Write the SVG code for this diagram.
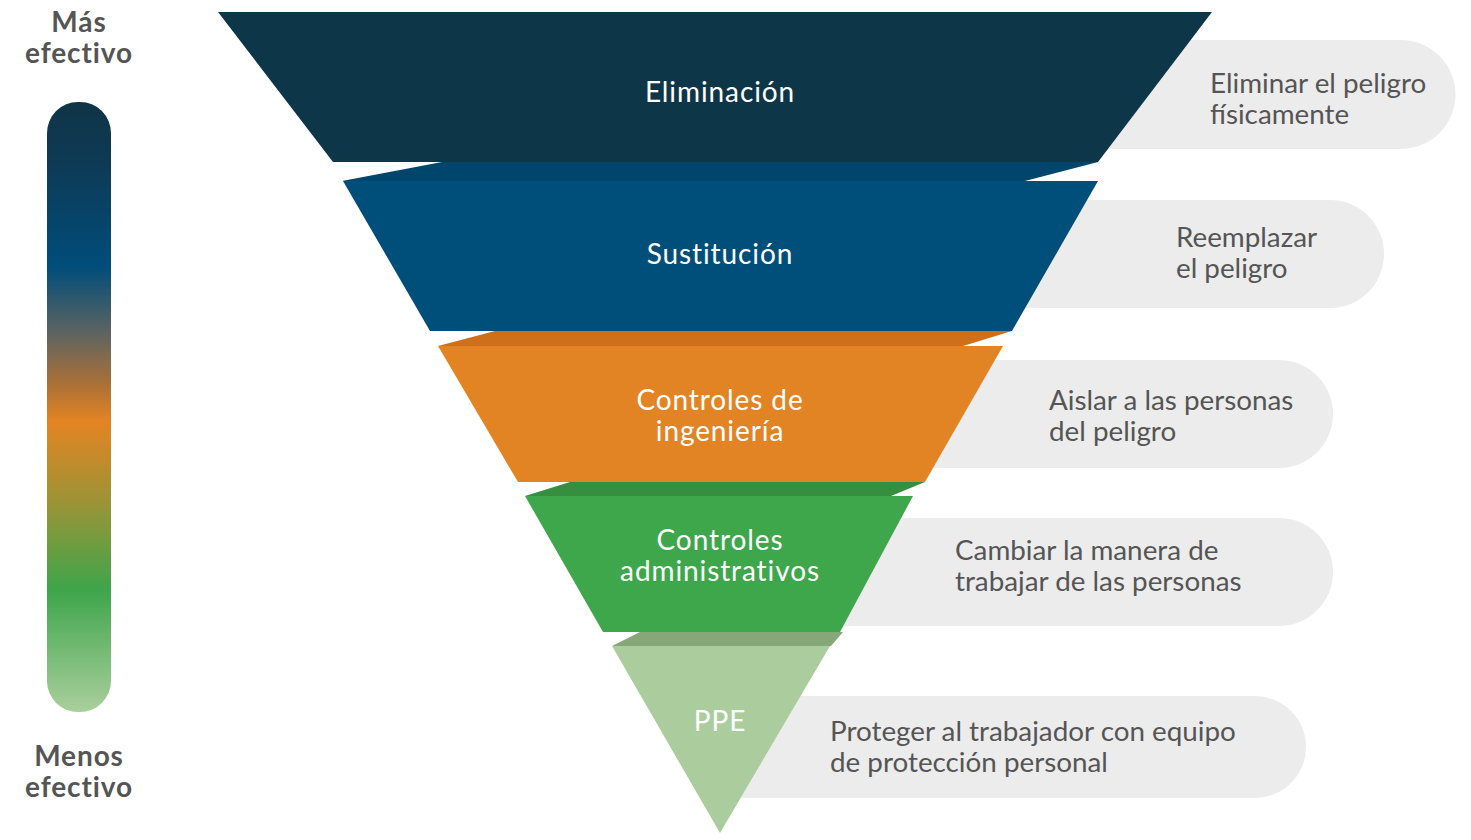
<svg xmlns="http://www.w3.org/2000/svg" width="1471" height="840" viewBox="0 0 1471 840">
<defs>
<linearGradient id="bar" x1="0" y1="0" x2="0" y2="1">
<stop offset="0" stop-color="#0f3446"/>
<stop offset="0.1" stop-color="#0e3a55"/>
<stop offset="0.27" stop-color="#004d7a"/>
<stop offset="0.38" stop-color="#5e6460"/>
<stop offset="0.46" stop-color="#a87038"/>
<stop offset="0.525" stop-color="#e48422"/>
<stop offset="0.66" stop-color="#999437"/>
<stop offset="0.8" stop-color="#3ea54b"/>
<stop offset="1" stop-color="#aacf9d"/>
</linearGradient>
<style>
.pill{fill:#ececec}
.lbl{font-family:Lato,"Open Sans","Liberation Sans",sans-serif;font-size:28px;letter-spacing:0.9px;fill:#ffffff;text-anchor:middle}
.desc{font-family:Lato,"Open Sans","Liberation Sans",sans-serif;font-size:27.8px;fill:#555555}
.side{font-family:Lato,"Open Sans","Liberation Sans",sans-serif;font-size:28px;letter-spacing:0.9px;font-weight:bold;fill:#555555;text-anchor:middle}
</style>
</defs>
<rect width="1471" height="840" fill="#ffffff"/>
<g id="scale">
<rect x="47" y="102" width="64" height="610" rx="31" fill="url(#bar)"/>
<text class="side" x="79" y="32">Más</text>
<text class="side" x="79" y="63">efectivo</text>
<text class="side" x="79" y="766">Menos</text>
<text class="side" x="79" y="797">efectivo</text>
</g>
<g id="pills">
<path class="pill" d="M1100,40 H1401 A54.5,54.5 0 0 1 1401,149 H1100 Z"/>
<path class="pill" d="M1000,200 H1330 A54,54 0 0 1 1330,308 H1000 Z"/>
<path class="pill" d="M900,360 H1279 A54,54 0 0 1 1279,468 H900 Z"/>
<path class="pill" d="M800,518 H1279 A54,54 0 0 1 1279,626 H800 Z"/>
<path class="pill" d="M720,696 H1255 A51,51 0 0 1 1255,798 H720 Z"/>
</g>
<g id="connectors">
<polygon points="442,162 1098,162 1025,181 342,181" fill="#00466c"/>
<polygon points="495,331 1012,331 963,346 438,346" fill="#ce6f19"/>
<polygon points="570,482 925,482 891,496 525,496" fill="#358f3f"/>
<polygon points="640,632 843,632 831,646 612,646" fill="#86a878"/>
</g>
<g id="eliminacion">
<polygon points="218,12 1212,12 1098,162 333,162" fill="#0e3649"/>
<text class="lbl" x="720" y="102">Eliminación</text>
<text class="desc" x="1210" y="93">Eliminar el peligro</text>
<text class="desc" x="1210" y="124">físicamente</text>
</g>
<g id="sustitucion">
<polygon points="343,181 1098,181 1012,331 430,331" fill="#004e7a"/>
<text class="lbl" x="720" y="264">Sustitución</text>
<text class="desc" x="1176" y="247">Reemplazar</text>
<text class="desc" x="1176" y="278">el peligro</text>
</g>
<g id="ingenieria">
<polygon points="438,346 1003,346 925,482 518,482" fill="#e38424"/>
<text class="lbl" x="720" y="410">Controles de</text>
<text class="lbl" x="720" y="441">ingeniería</text>
<text class="desc" x="1049" y="410">Aislar a las personas</text>
<text class="desc" x="1049" y="441">del peligro</text>
</g>
<g id="administrativos">
<polygon points="525,496 913,496 840,632 603,632" fill="#3ea64b"/>
<text class="lbl" x="720" y="550">Controles</text>
<text class="lbl" x="720" y="581">administrativos</text>
<text class="desc" x="955" y="560">Cambiar la manera de</text>
<text class="desc" x="955" y="591">trabajar de las personas</text>
</g>
<g id="ppe">
<polygon points="612,646 830,646 720,833" fill="#abcd9d"/>
<text class="lbl" x="720" y="731">PPE</text>
<text class="desc" x="830" y="741">Proteger al trabajador con equipo</text>
<text class="desc" x="830" y="772">de protección personal</text>
</g>
</svg>
